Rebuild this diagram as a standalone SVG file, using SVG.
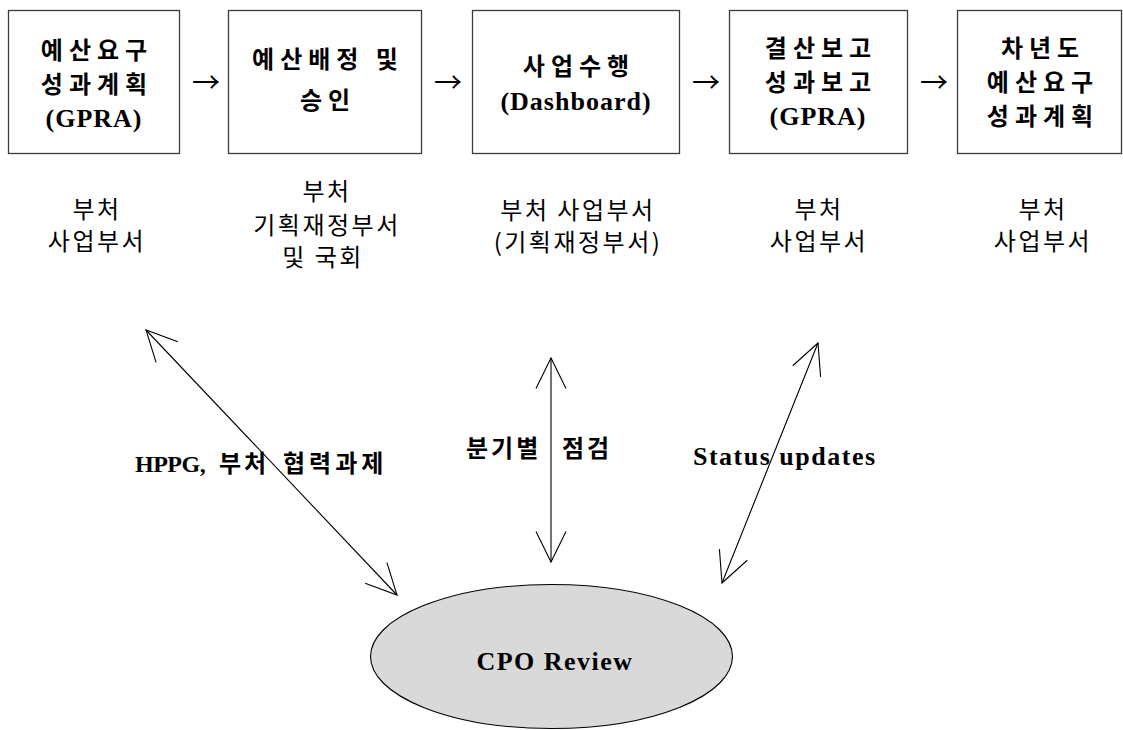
<svg xmlns="http://www.w3.org/2000/svg" width="1123" height="730" viewBox="0 0 1123 730">
  <defs>
    <style>
      .box { fill: #ffffff; stroke: #3c3c3c; stroke-width: 1.3; }
      .kt { font-family: "Noto Sans CJK KR", "Liberation Serif", sans-serif; font-size: 24px; font-weight: bold; letter-spacing: 6px; text-anchor: middle; fill: #000; }
      .lt { font-family: "Liberation Serif", "Noto Sans CJK KR", serif; font-size: 26px; font-weight: bold; letter-spacing: 1px; text-anchor: middle; fill: #000; }
      .sub { font-family: "Noto Sans CJK KR", "Liberation Serif", sans-serif; font-size: 24px; letter-spacing: 2.5px; text-anchor: middle; fill: #000; }
      .flow { font-family: "Noto Sans CJK KR", "DejaVu Sans", sans-serif; font-size: 28px; text-anchor: middle; fill: #000; }
      .lab { font-family: "Liberation Serif", "Noto Sans CJK KR", serif; font-size: 26px; font-weight: bold; fill: #000; }
      .labk { font-family: "Noto Sans CJK KR", "Liberation Serif", sans-serif; font-size: 24px; font-weight: bold; letter-spacing: 4px; fill: #000; }
      .link { fill: none; stroke: #000; stroke-width: 1.1; marker-start: url(#barb); marker-end: url(#barb); }
    </style>
    <marker id="barb" viewBox="0 0 32 32" refX="31" refY="16" markerWidth="32" markerHeight="32" markerUnits="userSpaceOnUse" orient="auto-start-reverse">
      <path d="M0.5,1 L31,16 L0.5,31" fill="none" stroke="#000" stroke-width="1.1"/>
    </marker>
  </defs>

  <rect width="1123" height="730" fill="#ffffff"/>

  <!-- process steps -->
  <g id="step-budget-request">
    <rect class="box" x="8.5" y="10.5" width="171" height="143"/>
    <text class="kt" x="97" y="59">예산요구</text>
    <text class="kt" x="97" y="93">성과계획</text>
    <text class="lt" x="94" y="127">(GPRA)</text>
  </g>
  <g id="step-allocation">
    <rect class="box" x="228.5" y="10.5" width="193" height="143"/>
    <text class="kt" x="328" y="68">예산배정 및</text>
    <text class="kt" x="328" y="109">승인</text>
  </g>
  <g id="step-execution">
    <rect class="box" x="472.5" y="10.5" width="207" height="143"/>
    <text class="kt" x="579" y="75">사업수행</text>
    <text class="lt" x="576" y="110">(Dashboard)</text>
  </g>
  <g id="step-reporting">
    <rect class="box" x="729.5" y="10.5" width="178" height="143"/>
    <text class="kt" x="821" y="57">결산보고</text>
    <text class="kt" x="821" y="91">성과보고</text>
    <text class="lt" x="818" y="125">(GPRA)</text>
  </g>
  <g id="step-next-year">
    <rect class="box" x="957.5" y="10.5" width="164" height="143"/>
    <text class="kt" x="1043" y="57">차년도</text>
    <text class="kt" x="1043" y="91">예산요구</text>
    <text class="kt" x="1043" y="125">성과계획</text>
  </g>

  <!-- responsible parties -->
  <g id="owner-1">
    <text class="sub" x="97" y="218">부처</text>
    <text class="sub" x="97" y="250">사업부서</text>
  </g>
  <g id="owner-2">
    <text class="sub" x="327" y="200">부처</text>
    <text class="sub" x="327" y="234">기획재정부서</text>
    <text class="sub" x="323" y="266">및 국회</text>
  </g>
  <g id="owner-3">
    <text class="sub" x="578" y="219">부처 사업부서</text>
    <text class="sub" x="578" y="251">(기획재정부서)</text>
  </g>
  <g id="owner-4">
    <text class="sub" x="819" y="218">부처</text>
    <text class="sub" x="819" y="250">사업부서</text>
  </g>
  <g id="owner-5">
    <text class="sub" x="1043" y="218">부처</text>
    <text class="sub" x="1043" y="250">사업부서</text>
  </g>

  <!-- review hub -->
  <g id="cpo-review">
    <ellipse cx="551.5" cy="656.5" rx="181" ry="72" fill="#d9d9d9" stroke="#000" stroke-width="1.1"/>
    <text class="lt" x="555" y="670" style="letter-spacing:1.5px">CPO  Review</text>
  </g>

  <!-- connectors -->
  <g id="connectors">
    <text class="flow" x="206" y="93">→</text>
    <text class="flow" x="448" y="93">→</text>
    <text class="flow" x="706" y="93">→</text>
    <text class="flow" x="934" y="93">→</text>

    <line class="link" x1="146" y1="330" x2="397" y2="595"/>
    <line class="link" x1="551" y1="358" x2="551" y2="562"/>
    <line class="link" x1="818" y1="343" x2="722" y2="583"/>

    <text class="lab" x="135" y="472" style="font-size:24px;letter-spacing:-0.5px">HPPG,</text>
    <text class="labk" x="219" y="472" style="letter-spacing:3px">부처</text>
    <text class="labk" x="283" y="472">협력과제</text>

    <text class="labk" x="466" y="457" style="letter-spacing:3px">분기별</text>
    <text class="labk" x="562" y="457" style="letter-spacing:3px">점검</text>

    <text class="lab" x="693" y="465" style="letter-spacing:1.5px">Status  updates</text>
  </g>
</svg>
